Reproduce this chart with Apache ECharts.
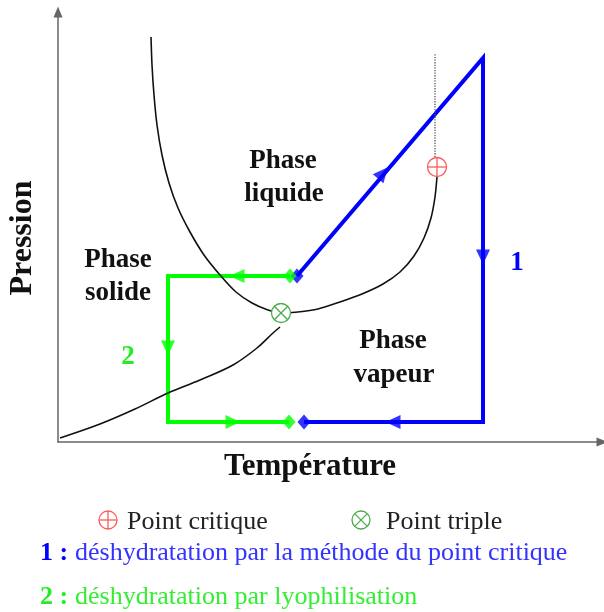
<!DOCTYPE html>
<html><head><meta charset="utf-8">
<script src="https://cdn.jsdelivr.net/npm/echarts@6/dist/echarts.min.js"></script>
<style>html,body{margin:0;padding:0;background:#fff}#c{width:604px;height:612px}</style>
</head><body><div id="c"></div>
<script>
// Schematic phase diagram (arbitrary units: temperature 0..544, pressure 0..430)
const fusionVaporCurve = [[93,405],[94,377],[96,347],[99,317],[104,287],[111,259],[120,234],[132,210],[146,187],[162,167],[178,150],[194,139],[210,132],[223,129],[240,130],[260,133],[282,140],[304,148],[325,158],[342,170],[356,186],[366,204],[373,224],[377,245],[379,265]];
const sublimationCurve = [[2,4],[42,18],[77,33],[110,49],[142,62],[175,77],[199,94],[215,109],[222,115]];
const criticalIsotherm = [[377,285],[377,388]];
const path1 = [[239,166],[425,384],[425,20],[246,20]];
const path2 = [[232,166],[110,166],[110,20],[231,20]];
const path1Arrows = [[325,269,-40.5],[425,185,180],[335,20,90]];
const path2Arrows = [[179,166,90],[110,94,180],[175,20,-90]];
const path1Ends = [[239,166],[246,20]];
const path2Ends = [[232,166],[231,20]];
const criticalPoint = [[379,275]];
const triplePoint = [[223,129]];

const regionLabels = ['Phase', 'liquide', 'Phase', 'solide', 'Phase', 'vapeur'];
const pathLabels = ['1', '2'];
const axisTitles = ['Température', 'Pression'];
const legendTexts = ['Point critique', 'Point triple'];
const captionNums = ['1 :', '2 :'];
const captionTexts = ['déshydratation par la méthode du point critique', 'déshydratation par lyophilisation'];

const BLUE = '#0000ff', GREEN = '#00ff00', BLACK = '#111111';
const RED_MK = '#ff5a5a', GREEN_MK = '#4cab4c';
const FONT = '"Liberation Serif", "Times New Roman", Times, "DejaVu Serif", serif';

function circleMark(cx, cy, r, color, kind) {
  const lw = 1.3;
  const children = [{type: 'circle', shape: {cx, cy, r}, style: {fill: '#fff', stroke: color, lineWidth: lw}}];
  if (kind === 'plus') {
    children.push({type: 'line', shape: {x1: cx - r, y1: cy, x2: cx + r, y2: cy}, style: {stroke: color, lineWidth: lw}});
    children.push({type: 'line', shape: {x1: cx, y1: cy - r, x2: cx, y2: cy + r}, style: {stroke: color, lineWidth: lw}});
  } else {
    const d = r * Math.SQRT1_2;
    children.push({type: 'line', shape: {x1: cx - d, y1: cy - d, x2: cx + d, y2: cy + d}, style: {stroke: color, lineWidth: lw}});
    children.push({type: 'line', shape: {x1: cx + d, y1: cy - d, x2: cx - d, y2: cy + d}, style: {stroke: color, lineWidth: lw}});
  }
  return {type: 'group', children};
}

function txt(text, x, y, size, bold, color, align, rot) {
  const style = {text, fontFamily: FONT, fontSize: size, fill: color, align: align || 'center', verticalAlign: 'middle'};
  if (bold) style.fontWeight = 'bold';
  return {type: 'text', x, y, rotation: rot || 0, silent: true, style};
}

const chart = echarts.init(document.getElementById('c'), null, {renderer: 'canvas'});
const axisCommon = {
  type: 'value', splitLine: {show: false}, axisTick: {show: false}, axisLabel: {show: false},
  axisLine: {show: true, symbol: ['none', 'triangle'], symbolSize: [9, 11], lineStyle: {color: '#666666', width: 1.5}}
};

const labelPos = [[283,161],[284,194],[118,260],[118,293],[393,341],[394,375]];
const graphics = [];
regionLabels.forEach((t, i) => graphics.push(txt(t, labelPos[i][0], labelPos[i][1], 27, true, '#111')));
graphics.push(txt(pathLabels[0], 517, 263, 27, true, BLUE));
graphics.push(txt(pathLabels[1], 128, 357, 27, true, '#22ee22'));
graphics.push(txt(axisTitles[0], 310, 467, 31, true, '#111'));
graphics.push(txt(axisTitles[1], 23, 238, 32, true, '#111', 'center', Math.PI / 2));
graphics.push(circleMark(108, 520, 9, RED_MK, 'plus'));
graphics.push(circleMark(361, 520, 9, GREEN_MK, 'cross'));
graphics.push(txt(legendTexts[0], 127, 522, 26, false, '#222', 'left'));
graphics.push(txt(legendTexts[1], 386, 522, 26, false, '#222', 'left'));
graphics.push(txt(captionNums[0], 40, 553, 26, true, BLUE, 'left'));
graphics.push(txt(captionTexts[0], 75, 553, 26, false, '#3333ff', 'left'));
graphics.push(txt(captionNums[1], 40, 597, 26, true, '#22ee22', 'left'));
graphics.push(txt(captionTexts[1], 75, 597, 26, false, '#33ee33', 'left'));

function arrowData(arr) { return arr.map(a => ({value: [a[0], a[1]], symbolRotate: a[2]})); }
function markerSeries(name, data, color, kind) {
  return {
    type: 'custom', name, data, z: 6, clip: false,
    renderItem: (params, api) => {
      const p = api.coord([api.value(0), api.value(1)]);
      return circleMark(p[0], p[1], 9.5, color, kind);
    }
  };
}

chart.setOption({
  animation: false,
  backgroundColor: '#fff',
  grid: {left: 58, top: 12, width: 544, height: 430},
  xAxis: Object.assign({min: 0, max: 544}, axisCommon),
  yAxis: Object.assign({min: 0, max: 430}, axisCommon),
  graphic: graphics,
  series: [
    {type: 'line', name: 'chemin 1', data: path1, showSymbol: false, symbol: 'none', z: 2,
      lineStyle: {color: BLUE, width: 4, join: 'miter'}},
    {type: 'line', name: 'chemin 2', data: path2, showSymbol: false, symbol: 'none', z: 2,
      lineStyle: {color: GREEN, width: 4, join: 'miter'}},
    {type: 'line', name: 'fusion-vaporisation', data: fusionVaporCurve, smooth: 0.25, symbol: 'none', z: 3,
      lineStyle: {color: BLACK, width: 1.6}},
    {type: 'line', name: 'sublimation', data: sublimationCurve, smooth: 0.35, symbol: 'none', z: 3,
      lineStyle: {color: BLACK, width: 1.6}},
    {type: 'line', name: 'isotherme critique', data: criticalIsotherm, symbol: 'none', z: 3,
      lineStyle: {color: '#555', width: 1.3, type: 'dotted'}},
    {type: 'scatter', name: 'flèches 1', data: arrowData(path1Arrows), symbol: 'triangle', symbolSize: [14, 15], z: 5,
      itemStyle: {color: BLUE}},
    {type: 'scatter', name: 'flèches 2', data: arrowData(path2Arrows), symbol: 'triangle', symbolSize: [14, 15], z: 5,
      itemStyle: {color: GREEN}},
    {type: 'scatter', name: 'extrémités 1', data: path1Ends, symbol: 'diamond', symbolSize: [13, 15], z: 5,
      itemStyle: {color: BLUE}},
    {type: 'scatter', name: 'extrémités 2', data: path2Ends, symbol: 'diamond', symbolSize: [13, 15], z: 5,
      itemStyle: {color: GREEN}},
    markerSeries('Point critique', criticalPoint, RED_MK, 'plus'),
    markerSeries('Point triple', triplePoint, GREEN_MK, 'cross')
  ]
});
</script></body></html>
